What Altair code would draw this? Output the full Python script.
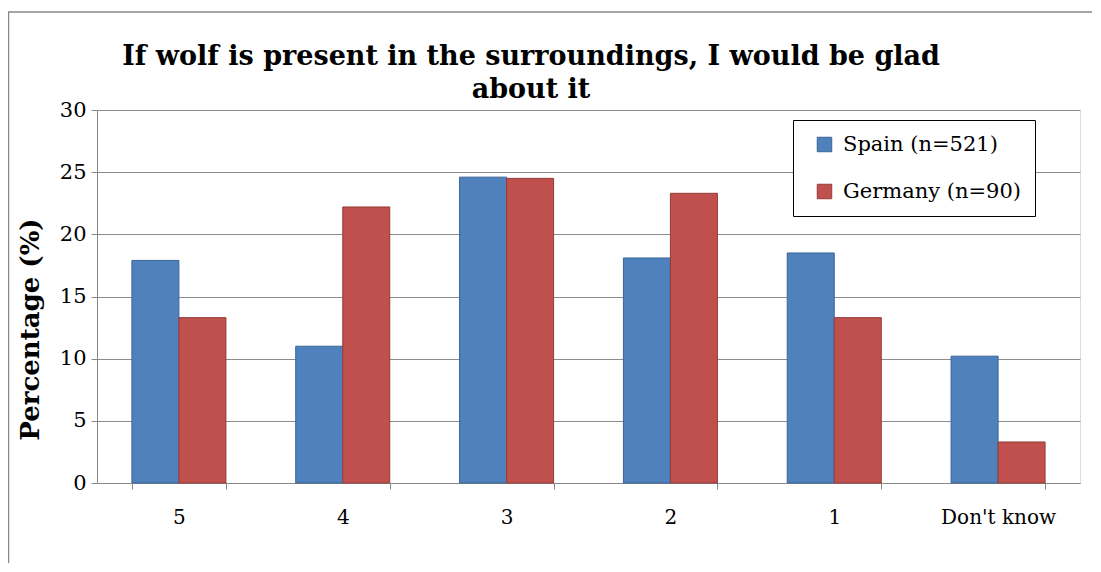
import altair as alt
import pandas as pd

categories = ["5", "4", "3", "2", "1", "Don't know"]
series = ["Spain (n=521)", "Germany (n=90)"]
spain = [17.9, 11.0, 24.6, 18.1, 18.5, 10.2]
germany = [13.3, 22.2, 24.5, 23.3, 13.3, 3.3]
colors = ["#4F81BD", "#C0504D"]
strokes = ["#3A6597", "#943B38"]
title_lines = ["If wolf is present in the surroundings, I would be glad", "about it"]

rows = []
for c, s, g in zip(categories, spain, germany):
    rows.append({"cat": c, "country": series[0], "value": s})
    rows.append({"cat": c, "country": series[1], "value": g})
df = pd.DataFrame(rows)

FONT = "DejaVu Serif"
W, H = 983, 373

bars = alt.Chart(df).mark_bar(strokeWidth=1).encode(
    x=alt.X("cat:N", sort=categories, title=None,
            scale=alt.Scale(paddingInner=0.426, paddingOuter=0.213),
            axis=alt.Axis(labelAngle=0, tickBand="extent", labelPadding=18,
                          tickSize=6, labelFontSize=20, labelFont=FONT,
                          labelColor="#000", domainColor="#888", tickColor="#888")),
    xOffset=alt.XOffset("country:N", sort=series),
    y=alt.Y("value:Q", scale=alt.Scale(domain=[0, 30]), title="Percentage (%)",
            axis=alt.Axis(values=[0, 5, 10, 15, 20, 25, 30], tickSize=6,
                          labelFontSize=21, labelFont=FONT, labelColor="#000",
                          labelPadding=5, titleFont=FONT, titleFontSize=26,
                          titleFontWeight="bold", titleColor="#000",
                          titleX=-54, titleY=219, domainColor="#888",
                          tickColor="#888", gridColor="#8C8C8C", grid=True)),
    color=alt.Color("country:N", sort=series,
                    scale=alt.Scale(domain=series, range=colors),
                    legend=alt.Legend(title=None, orient="none", legendX=696, legendY=10,
                                      labelFont=FONT, labelFontSize=21, labelColor="#000",
                                      symbolType="square", symbolSize=210,
                                      symbolStrokeWidth=1, rowPadding=25,
                                      padding=14, strokeColor="#000", fillColor="#fff",
                                      labelLimit=400, symbolOffset=7, labelOffset=8)),
    stroke=alt.Stroke("country:N", sort=series,
                      scale=alt.Scale(domain=series, range=strokes), legend=None),
)

frame = alt.Chart(alt.Data(values=[{}])).mark_rect(
    fill=None, stroke="#888888", strokeWidth=1.5, clip=False
).encode(
    x=alt.value(-88.5), x2=alt.value(1030),
    y=alt.value(-98), y2=alt.value(520),
)

title = alt.Chart(alt.Data(values=[{"t": title_lines}])).mark_text(
    font=FONT, fontSize=27, fontWeight="bold", color="#000",
    align="center", baseline="middle", lineHeight=33,
).encode(
    text="t:N", x=alt.value(434), y=alt.value(-53),
)

chart = alt.layer(frame, bars, title).properties(
    width=W, height=H,
    autosize=alt.AutoSizeParams(type="none"),
    padding={"left": 89, "top": 102, "right": 12, "bottom": 80},
).configure_view(
    fill="#E6E6E6", stroke=None
).configure(background="white")

chart.save("out.html", embed_options={"renderer": "svg", "actions": False})
